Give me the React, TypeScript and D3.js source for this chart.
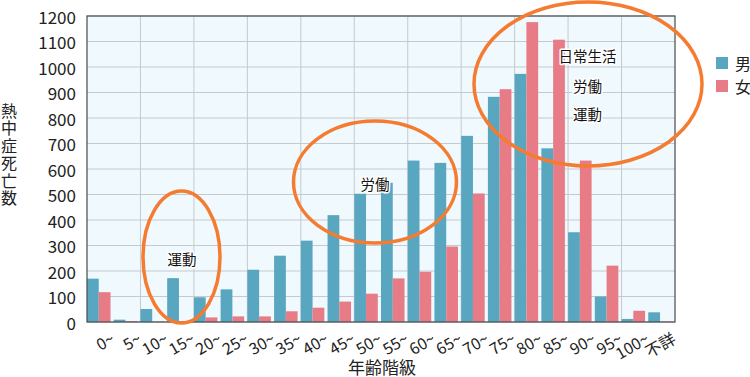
import React from "react";
import * as d3 from "d3";

const categories = ["0~","5~","10~","15~","20~","25~","30~","35~","40~","45~","50~","55~","60~","65~","70~","75~","80~","85~","90~","95~","100~","不詳"];
const male = [170, 9, 51, 172, 97, 128, 205, 260, 319, 419, 503, 546, 633, 624, 730, 883, 973, 681, 352, 100, 12, 38];
const female = [117, 3, 1, 1, 18, 22, 22, 42, 56, 80, 111, 171, 197, 296, 504, 913, 1176, 1107, 633, 221, 44, 1];
const yTicks = [0,100,200,300,400,500,600,700,800,900,1000,1100,1200];
const seriesNames = ["男", "女"];
const yTitle = "熱中症死亡数";
const xTitle = "年齢階級";
const annotations = [
  { text: "運動", cx: 182, cy: 258 },
  { text: "労働", cx: 375, cy: 183 },
  { text: "日常生活", cx: 587.5, cy: 55 },
  { text: "労働", cx: 587.5, cy: 85 },
  { text: "運動", cx: 587.5, cy: 113 },
];
const ellipses = [
  { cx: 181.5, cy: 257, rx: 38.5, ry: 66 },
  { cx: 375, cy: 182, rx: 81.5, ry: 61 },
  { cx: 588, cy: 84, rx: 114, ry: 82 },
];

const FONT = "'Noto Sans CJK JP', 'Noto Sans', sans-serif";
const BLUE = "#58a6bf";
const PINK = "#e77c87";

export default function App() {
  const left = 87, right = 675, top = 16, bottom = 322;
  const x = d3.scaleBand<string>().domain(categories).range([left, right]).paddingInner(0).paddingOuter(0);
  const y = d3.scaleLinear().domain([0, 1200]).range([bottom, top]);
  const step = x.step();
  const bw = step * 0.44;

  return (
    <svg width={750} height={377} style={{ position: "absolute", left: 0, top: 0, fontFamily: FONT }}>
      <rect x={left} y={top} width={right - left} height={bottom - top} fill="#f0f9fd" />
      {yTicks.map((t) => (
        <line key={"h" + t} x1={left} x2={right} y1={y(t)} y2={y(t)} stroke="#c6cacd" strokeWidth={1} />
      ))}
      {categories.map((c, i) =>
        i > 0 && i % 2 === 0 ? (
          <line key={"v" + c} x1={x(c)!} x2={x(c)!} y1={top} y2={bottom} stroke="#c6cacd" strokeWidth={1} />
        ) : null
      )}
      {categories.map((c, i) => (
        <g key={"b" + c}>
          <rect x={x(c)!} y={y(male[i])} width={bw} height={bottom - y(male[i])} fill={BLUE} />
          <rect x={x(c)! + bw} y={y(female[i])} width={bw} height={bottom - y(female[i])} fill={PINK} />
        </g>
      ))}
      <rect x={left} y={top} width={right - left} height={bottom - top} fill="none" stroke="#4a4a4a" strokeWidth={1.2} />
      {yTicks.map((t) => (
        <text key={"yt" + t} x={76} y={y(t)} textAnchor="end" dominantBaseline="central" fontSize={17} fill="#222">
          {t}
        </text>
      ))}
      {categories.map((c) => {
        const cx = x(c)! + step / 2 + 8;
        const cy = 329;
        return (
          <text key={"xt" + c} x={cx} y={cy} textAnchor="end" dominantBaseline="hanging" fontSize={16} fill="#222"
            transform={`rotate(-30, ${cx}, ${cy})`}>
            {c}
          </text>
        );
      })}
      <g transform="translate(1, 117) rotate(90)">
        <text x={0} y={0} fontSize={16} fill="#222" letterSpacing={1.4} rotate="-90">
          {yTitle}
        </text>
      </g>
      <text x={382} y={366} textAnchor="middle" dominantBaseline="central" fontSize={17} fill="#222">{xTitle}</text>
      {ellipses.map((e, i) => (
        <ellipse key={"e" + i} cx={e.cx} cy={e.cy} rx={e.rx} ry={e.ry} fill="none" stroke="#f57b30" strokeWidth={3.5} />
      ))}
      {annotations.map((a, i) => (
        <text key={"a" + i} x={a.cx} y={a.cy} textAnchor="middle" dominantBaseline="central" fontSize={14.5} fill="#111"
          stroke="#ffffff" strokeWidth={3} paintOrder="stroke" strokeLinejoin="round">
          {a.text}
        </text>
      ))}
      {seriesNames.map((s, i) => (
        <g key={"l" + s}>
          <rect x={716} y={57 + i * 23} width={12} height={12} fill={i === 0 ? BLUE : PINK} />
          <text x={735} y={63 + i * 23} dominantBaseline="central" fontSize={16} fill="#222">{s}</text>
        </g>
      ))}
    </svg>
  );
}
